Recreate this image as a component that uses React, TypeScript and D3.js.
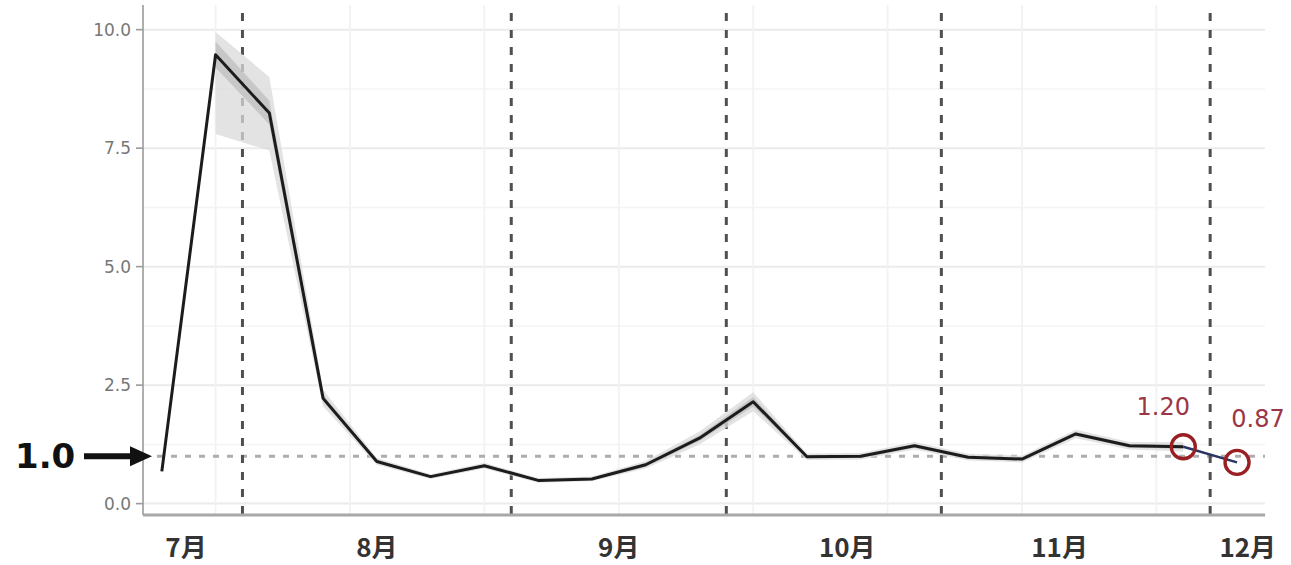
import { useMemo } from "react";
import * as d3 from "d3";

// Weekly index (week number) and estimated effective reproduction number
const WEEKS = [24, 25, 26, 27, 28, 29, 30, 31, 32, 33, 34, 35, 36, 37, 38, 39, 40, 41, 42, 43, 44];
const RT = [0.68, 9.47, 8.24, 2.22, 0.89, 0.57, 0.8, 0.49, 0.52, 0.82, 1.38, 2.15, 0.99, 1.0, 1.22, 0.98, 0.94, 1.47, 1.22, 1.2, 0.87];
const LOWER_95 = [0.45, 7.8, 7.45, 2.05, 0.82, 0.52, 0.74, 0.44, 0.47, 0.74, 1.25, 1.95, 0.92, 0.93, 1.14, 0.91, 0.87, 1.38, 1.14, 1.1, 0.8];
const UPPER_95 = [0.95, 9.95, 9.0, 2.4, 0.96, 0.62, 0.86, 0.54, 0.57, 0.9, 1.52, 2.35, 1.06, 1.07, 1.3, 1.05, 1.01, 1.56, 1.3, 1.3, 0.94];
const LOWER_50 = [0.6, 9.2, 8.0, 2.15, 0.86, 0.55, 0.77, 0.47, 0.5, 0.78, 1.32, 2.05, 0.96, 0.97, 1.18, 0.95, 0.91, 1.43, 1.18, 1.16, 0.84];
const UPPER_50 = [0.8, 9.75, 8.5, 2.3, 0.92, 0.59, 0.83, 0.51, 0.54, 0.86, 1.44, 2.25, 1.02, 1.03, 1.26, 1.01, 0.97, 1.51, 1.26, 1.24, 0.9];

// Vertical dashed event markers (week positions)
const EVENTS = [25.5, 30.5, 34.5, 38.5, 43.5];

// Month labels and where they sit on the week axis
const MONTH_LABELS = ["7月", "8月", "9月", "10月", "11月", "12月"];
const MONTH_POS = [24.45, 28.0, 32.5, 36.75, 40.7, 44.2];

const Y_TICKS = [0, 2.5, 5, 7.5, 10];
const Y_MINOR = [1.25, 3.75, 6.25, 8.75];
const X_GRID = [25, 27.5, 30, 32.5, 35, 37.5, 40, 42.5];

// Highlighted latest values
const HIGHLIGHT_IDX = [19, 20];
const HIGHLIGHT_TEXT = ["1.20", "0.87"];

const REF_VALUE = 1.0;

const W = 1291;
const H = 565;

export default function App() {
  const panel = { left: 143, right: 1265, top: 5, bottom: 515 };

  const x = useMemo(
    () => d3.scaleLinear().domain([23.65, 44.52]).range([panel.left, panel.right]),
    [],
  );
  const y = useMemo(
    () => d3.scaleLinear().domain([-0.24, 10.52]).range([panel.bottom, panel.top]),
    [],
  );

  const pts = WEEKS.map((w, i) => ({ w, v: RT[i], lo95: LOWER_95[i], hi95: UPPER_95[i], lo50: LOWER_50[i], hi50: UPPER_50[i] }));
  type P = (typeof pts)[0];

  const band95 = d3.area<P>().x((d) => x(d.w)).y0((d) => y(d.lo95)).y1((d) => y(d.hi95));
  const band50 = d3.area<P>().x((d) => x(d.w)).y0((d) => y(d.lo50)).y1((d) => y(d.hi50));
  const line = d3.line<P>().x((d) => x(d.w)).y((d) => y(d.v));

  const main = pts.slice(0, 20);
  const banded = pts.slice(1, 20);
  const tail = pts.slice(19);

  return (
    <svg
      width={W}
      height={H}
      style={{ position: "absolute", left: 0, top: 0, background: "#fff" }}
    >
      {/* Grid */}
      {Y_MINOR.map((t) => (
        <line key={"ym" + t} x1={panel.left} x2={panel.right} y1={y(t)} y2={y(t)} stroke="#f4f4f4" strokeWidth={1.5} />
      ))}
      {Y_TICKS.map((t) => (
        <line key={"y" + t} x1={panel.left} x2={panel.right} y1={y(t)} y2={y(t)} stroke="#ebebeb" strokeWidth={2} />
      ))}
      {X_GRID.map((t) => (
        <line key={"x" + t} x1={x(t)} x2={x(t)} y1={panel.top} y2={panel.bottom} stroke="#f2f2f2" strokeWidth={1.8} />
      ))}

      {/* Reference line at 1.0 */}
      <line
        x1={panel.left}
        x2={panel.right}
        y1={y(REF_VALUE)}
        y2={y(REF_VALUE)}
        stroke="#adadad"
        strokeWidth={3}
        strokeDasharray="6 8"
      />

      {/* Event markers */}
      {EVENTS.map((e) => (
        <line
          key={e}
          x1={x(e)}
          x2={x(e)}
          y1={panel.top + 8}
          y2={panel.bottom}
          stroke="#505050"
          strokeWidth={3}
          strokeDasharray="8 9"
        />
      ))}

      {/* Uncertainty bands */}
      <path d={band95(banded) ?? ""} fill="#d9d9d9" opacity={0.75} />
      <path d={band50(banded) ?? ""} fill="#bdbdbd" opacity={0.75} />

      {/* Series */}
      <path d={line(main) ?? ""} fill="none" stroke="#1c1c1c" strokeWidth={3} strokeLinejoin="round" />
      <path d={line(tail) ?? ""} fill="none" stroke="#2b3562" strokeWidth={2.4} />

      {/* Axes */}
      <line x1={panel.left} x2={panel.left} y1={panel.top} y2={panel.bottom} stroke="#9a9a9a" strokeWidth={1.6} />
      <line x1={panel.left} x2={panel.right} y1={panel.bottom} y2={panel.bottom} stroke="#a8a8a8" strokeWidth={3} />
      {Y_TICKS.map((t) => (
        <g key={"yt" + t}>
          <line x1={panel.left - 7} x2={panel.left} y1={y(t)} y2={y(t)} stroke="#9a9a9a" strokeWidth={1.6} />
          <text
            x={panel.left - 12}
            y={y(t)}
            textAnchor="end"
            dominantBaseline="central"
            fontFamily="'DejaVu Sans', sans-serif"
            fontSize={17}
            fill="#777"
          >
            {t.toFixed(1)}
          </text>
        </g>
      ))}
      {MONTH_LABELS.map((m, i) => (
        <text
          key={m}
          x={x(MONTH_POS[i])}
          y={557}
          textAnchor="middle"
          fontFamily="'Noto Sans CJK JP', sans-serif"
          fontWeight={700}
          fontSize={26}
          fill="#333"
        >
          {m}
        </text>
      ))}

      {/* Highlighted points */}
      {HIGHLIGHT_IDX.map((idx, k) => (
        <g key={idx}>
          <circle cx={x(WEEKS[idx])} cy={y(RT[idx])} r={12} fill="none" stroke="#9a1f22" strokeWidth={3.4} />
          <text
            x={x(WEEKS[idx]) + (k === 0 ? -20 : 21)}
            y={y(RT[idx]) + (k === 0 ? -32 : -35)}
            textAnchor="middle"
            fontFamily="'DejaVu Sans', sans-serif"
            fontSize={24}
            fill="#9c3645"
          >
            {HIGHLIGHT_TEXT[k]}
          </text>
        </g>
      ))}

      {/* "1.0" arrow annotation */}
      <text
        x={15}
        y={y(REF_VALUE)}
        dominantBaseline="central"
        fontFamily="'DejaVu Sans', sans-serif"
        fontWeight={700}
        fontSize={34}
        fill="#111"
      >
        {REF_VALUE.toFixed(1)}
      </text>
      <line x1={84} x2={132} y1={y(REF_VALUE)} y2={y(REF_VALUE)} stroke="#111" strokeWidth={6} />
      <path
        d={`M${130},${y(REF_VALUE) - 10} L${152},${y(REF_VALUE)} L${130},${y(REF_VALUE) + 10} Z`}
        fill="#111"
      />
    </svg>
  );
}
